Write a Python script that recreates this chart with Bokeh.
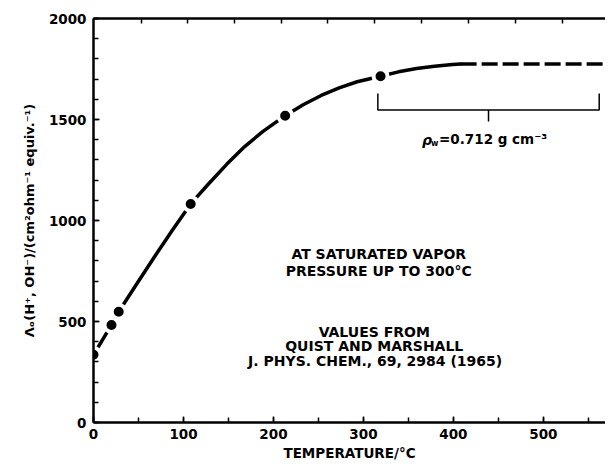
from bokeh.plotting import figure
from bokeh.models import LinearAxis, FixedTicker, SingleIntervalTicker, Range1d
from bokeh.core.properties import value
from bokeh.embed import file_html
from bokeh.resources import INLINE

# ---- data ----
curve_x = [0, 20, 28, 48, 68, 88, 108, 128, 148, 168, 188, 213, 233, 253, 273, 293, 319, 339, 359, 379, 399, 408]
curve_y = [335, 483, 548, 686, 822, 954, 1082, 1182, 1278, 1366, 1440, 1519, 1573, 1619, 1657, 1687, 1714, 1736, 1752, 1764, 1772, 1775]
dash_x = [408, 572]
dash_y = [1775, 1775]
pts_x = [0, 20, 28, 108, 213, 319]
pts_y = [335, 483, 548, 1082, 1519, 1714]
top_ticks = [53, 105, 157, 209, 260, 312, 364, 417, 469, 521]

FONT = "DejaVu Sans"

p = figure(width=605, height=463, output_backend="svg", toolbar_location=None,
           x_range=Range1d(0, 569), y_range=Range1d(0, 2000),
           min_border_left=93, min_border_right=0, min_border_top=18, min_border_bottom=39,
           background_fill_color="white", border_fill_color="white")
p.outline_line_color = None
p.xgrid.visible = False
p.ygrid.visible = False

xa = p.xaxis[0]
xa.ticker = SingleIntervalTicker(interval=100, num_minor_ticks=2)
xa.axis_label = "TEMPERATURE/°C"
ya = p.yaxis[0]
ya.ticker = SingleIntervalTicker(interval=500, num_minor_ticks=5)
ya.axis_label = "Λₒ(H⁺, OH⁻)/(cm²ohm⁻¹ equiv.⁻¹)"

for ax in (xa, ya):
    ax.axis_line_width = 2.5
    ax.axis_line_color = "black"
    ax.major_tick_in = 6
    ax.major_tick_out = 0
    ax.minor_tick_in = 5
    ax.minor_tick_out = 0
    ax.major_tick_line_width = 1.5
    ax.minor_tick_line_width = 1.5
    ax.major_tick_line_color = "black"
    ax.minor_tick_line_color = "black"
    ax.major_label_text_font = FONT
    ax.major_label_text_font_style = "bold"
    ax.major_label_text_font_size = "13.5px"
    ax.major_label_text_color = "black"
    ax.axis_label_text_font = FONT
    ax.axis_label_text_font_style = "bold"
    ax.axis_label_text_color = "black"
    ax.axis_label_text_font_size = "13.5px"

xa.major_label_standoff = 6
xa.axis_label_standoff = 3
ya.major_label_standoff = 7
ya.axis_label_standoff = 9
ya.axis_label_text_font_size = "13px"

# top axis: ticks only, no labels
top = LinearAxis(ticker=FixedTicker(ticks=top_ticks))
top.axis_line_width = 2.5
top.major_tick_in = 5
top.major_tick_out = 0
top.minor_tick_in = 0
top.minor_tick_out = 0
top.major_tick_line_width = 1.5
top.major_label_overrides = {t: "" for t in top_ticks}
top.major_label_standoff = 0
p.add_layout(top, "above")

# curve
p.line(curve_x, curve_y, line_color="black", line_width=3.5, line_cap="round", line_join="round")
p.line(dash_x, dash_y, line_color="black", line_width=3.5, line_dash="16 5")
# data points with white halo to break the line
p.scatter(pts_x, pts_y, size=14, fill_color="black", line_color="white", line_width=4)

# bracket for constant density
p.line([316, 316, 562, 562], [1629, 1547, 1547, 1629], line_color="black", line_width=1.5)
p.segment(x0=[439], y0=[1547], x1=[439], y1=[1490], line_color="black", line_width=1.5)

# density label
p.text(x=[365], y=[1399], text=["ρ"], text_font=value(FONT), text_font_style="bold italic",
       text_font_size="14px", text_align="left", text_baseline="middle", text_color="black")
p.text(x=[375], y=[1381], text=["w"], text_font=value(FONT), text_font_style="bold",
       text_font_size="8px", text_align="left", text_baseline="middle", text_color="black")
p.text(x=[384], y=[1401], text=["=0.712 g cm⁻³"], text_font=value(FONT), text_font_style="bold",
       text_font_size="13.5px", text_align="left", text_baseline="middle", text_color="black")

# annotations
notes = [("AT SATURATED VAPOR", 317, 832),
         ("PRESSURE UP TO 300°C", 317, 749),
         ("VALUES FROM", 312, 450),
         ("QUIST AND MARSHALL", 312, 379),
         ("J. PHYS. CHEM., 69, 2984 (1965)", 313, 303)]
p.text(x=[n[1] for n in notes], y=[n[2] for n in notes], text=[n[0] for n in notes],
       text_font=value(FONT), text_font_style="bold", text_font_size="14px",
       text_align="center", text_baseline="middle", text_color="black")

open("out.html", "w").write(file_html(p, INLINE))
